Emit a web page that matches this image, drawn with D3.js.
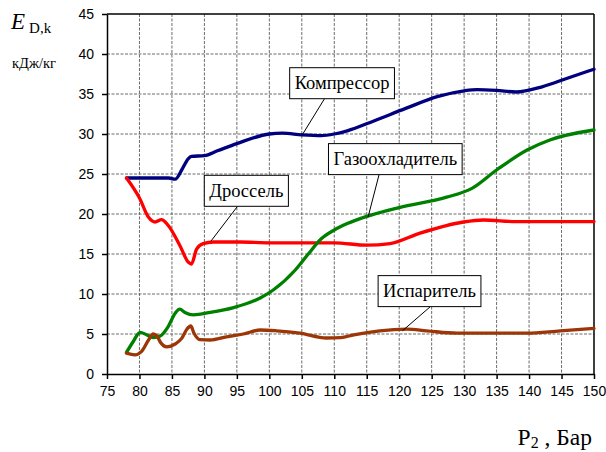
<!DOCTYPE html>
<meta charset="utf-8">
<style>
    body { margin: 0; background: #fff; }
    .tick text { font-family: "Liberation Sans", Arial, sans-serif; font-size: 14px; fill: #000; }
    .axis path, .axis line { stroke: #000; stroke-width: 1.5; }
    .grid line { stroke: #6b6b6b; stroke-width: 1; stroke-dasharray: 3,1.5; }
    .series { fill: none; stroke-width: 3.3; stroke-linejoin: round; stroke-linecap: round; }
    .lbl rect { fill: #fff; stroke: #000; stroke-width: 1; }
    .lbl text { font-family: "Liberation Serif", "Times New Roman", serif; font-size: 18.5px; fill: #000; }
    .lead { stroke: #000; stroke-width: 1; }
    .serif { font-family: "Liberation Serif", "Times New Roman", serif; fill: #000; }
</style>
<body>
<script src="https://cdn.jsdelivr.net/npm/d3@7"></script>
<script>
    // values: [P2, E]
    let compressor = [[78, 24.5], [80, 24.5], [84.5, 24.5], [85.5, 24.35], [86.5, 25.5], [87.5, 26.9], [88, 27.2], [90, 27.3],
        [92, 27.9], [95, 28.8], [100, 30.0], [102, 30.1], [105, 29.9], [108, 29.8], [110, 30.0], [112, 30.4], [116, 31.6],
        [121, 33.2], [126, 34.7], [130, 35.4], [132, 35.55], [135, 35.45], [138, 35.25], [142, 35.9], [146, 37.0], [150, 38.1]];
    let drossel = [[78, 24.5], [80, 22.0], [81.4, 19.6], [82.4, 19.0], [83.4, 19.3], [84.4, 18.6], [86.2, 16.1], [87.5, 14.0],
        [88, 13.75], [88.8, 15.6], [89.8, 16.3], [91.4, 16.5], [95.5, 16.5], [100, 16.4], [105, 16.4], [110, 16.4], [115, 16.1],
        [118.6, 16.3], [123.2, 17.6], [129.9, 19.0], [133, 19.25], [138, 19.05], [144, 19.05], [150, 19.05]];
    let gascooler = [[78, 2.7], [79, 4.0], [80.1, 5.2], [81.1, 4.9], [82.1, 4.55], [83.2, 4.75], [84.4, 5.9], [85.5, 7.6],
        [86.2, 8.1], [87, 7.7], [88.3, 7.4], [90.9, 7.7], [94.5, 8.3], [98.6, 9.5], [100.6, 10.5], [104, 13.0], [106, 15.0],
        [108, 16.9], [110, 18.0], [112, 18.8], [115, 19.7], [120, 20.8], [127.3, 22.1], [131.2, 23.2], [135, 25.5],
        [139.7, 28.0], [143.2, 29.25], [150, 30.5]];
    let evaporator = [[78, 2.6], [79.3, 2.4], [80.3, 2.8], [81.4, 4.25], [82.1, 5.0], [82.7, 4.75], [83.2, 4.0], [84.2, 3.4],
        [85.5, 3.75], [86.5, 4.45], [87.3, 5.6], [87.9, 6.0], [88.4, 5.1], [89.3, 4.3], [90.9, 4.25], [93.4, 4.65], [96, 5.0],
        [98.6, 5.5], [101.1, 5.4], [104.7, 5.1], [108.8, 4.5], [111, 4.55], [113, 4.9], [117, 5.4], [121.2, 5.6], [124.2, 5.4],
        [128.9, 5.1], [134, 5.1], [139.7, 5.1], [144.8, 5.4], [150, 5.7]];

    let xTicks = d3.range(75, 151, 5);
    let yTicks = d3.range(0, 46, 5);

    // label boxes: text, box centre, leader start x at box bottom, anchor point on the curve (data units)
    let labels = [
        { text: "Компрессор", cx: 111.2, cy: 36.35, bx: 108.5, px: 105.0, py: 29.8 },
        { text: "Газоохладитель", cx: 119.4, cy: 26.86, bx: 116.9, px: 115.2, py: 19.6 },
        { text: "Дроссель", cx: 96.46, cy: 22.9, bx: 95.1, px: 91.0, py: 16.6 },
        { text: "Испаритель", cx: 124.67, cy: 10.36, bx: 124.8, px: 120.5, py: 5.4 }
    ];

    let series = [
        { data: compressor, color: "#00007f" },
        { data: drossel, color: "#ff0000" },
        { data: gascooler, color: "#008000" },
        { data: evaporator, color: "#9c3606" }
    ];

    let margin = { top: 14, left: 107 },
        width = 487, height = 360;

    let svg = d3.select("body").append("svg")
        .attr("width", 606)
        .attr("height", 452);

    let g = svg.append("g").attr("transform", "translate(" + margin.left + "," + margin.top + ")");

    let xScale = d3.scaleLinear().domain([75, 150]).range([0, width]);
    let yScale = d3.scaleLinear().domain([0, 45]).range([height, 0]);

    // grid
    g.append("g").attr("class", "grid")
        .selectAll("line").data(xTicks.slice(1, -1)).enter().append("line")
        .attr("x1", d => xScale(d)).attr("x2", d => xScale(d))
        .attr("y1", 0).attr("y2", height);
    g.append("g").attr("class", "grid")
        .selectAll("line").data(yTicks.slice(1, -1)).enter().append("line")
        .attr("y1", d => yScale(d)).attr("y2", d => yScale(d))
        .attr("x1", 0).attr("x2", width);

    // frame top/right
    g.append("line").attr("x1", 0).attr("x2", width).attr("y1", 0).attr("y2", 0)
        .attr("stroke", "#000").attr("stroke-width", 1.5);
    g.append("line").attr("x1", width).attr("x2", width).attr("y1", 0).attr("y2", height)
        .attr("stroke", "#000").attr("stroke-width", 1.5);

    g.append("g").attr("class", "axis")
        .attr("transform", "translate(0," + height + ")")
        .call(d3.axisBottom(xScale).tickValues(xTicks).tickSize(5).tickSizeOuter(0).tickPadding(7));
    g.append("g").attr("class", "axis")
        .call(d3.axisLeft(yScale).tickValues(yTicks).tickSize(5).tickSizeOuter(0).tickPadding(8));

    let line = d3.line()
        .x(d => xScale(d[0]))
        .y(d => yScale(d[1]))
        .curve(d3.curveMonotoneX);

    g.selectAll(".series").data(series).enter().append("path")
        .attr("class", "series")
        .attr("stroke", d => d.color)
        .attr("d", d => line(d.data));

    // annotation boxes with leader lines
    labels.forEach(function(l) {
        let h = 31, padX = 5;
        let top = yScale(l.cy) - h / 2;
        g.append("line").attr("class", "lead")
            .attr("x1", xScale(l.px)).attr("y1", yScale(l.py))
            .attr("x2", xScale(l.bx)).attr("y2", top + h);
        let lg = g.append("g").attr("class", "lbl");
        let t = lg.append("text")
            .attr("x", xScale(l.cx)).attr("y", yScale(l.cy))
            .attr("text-anchor", "middle").attr("dy", "0.33em")
            .text(l.text);
        let bb = t.node().getBBox();
        lg.insert("rect", "text")
            .attr("x", bb.x - padX).attr("y", top)
            .attr("width", bb.width + 2 * padX).attr("height", h);
    });

    // axis titles
    let et = svg.append("text").attr("class", "serif").attr("x", 11).attr("y", 29);
    et.append("tspan").attr("font-size", "23px").attr("font-style", "italic").text("E");
    et.append("tspan").attr("font-size", "15px").attr("dx", "4").attr("dy", "4").text("D,k");
    svg.append("text").attr("class", "serif").attr("x", 12).attr("y", 68)
        .attr("font-size", "14.5px").text("кДж/кг");

    let xt = svg.append("text").attr("class", "serif").attr("x", 592).attr("y", 445)
        .attr("text-anchor", "end").attr("font-size", "23.5px");
    xt.append("tspan").text("P");
    xt.append("tspan").attr("font-size", "16px").attr("dy", "3").text("2");
    xt.append("tspan").attr("dy", "-3").text(" , Бар");
</script>
</body>
